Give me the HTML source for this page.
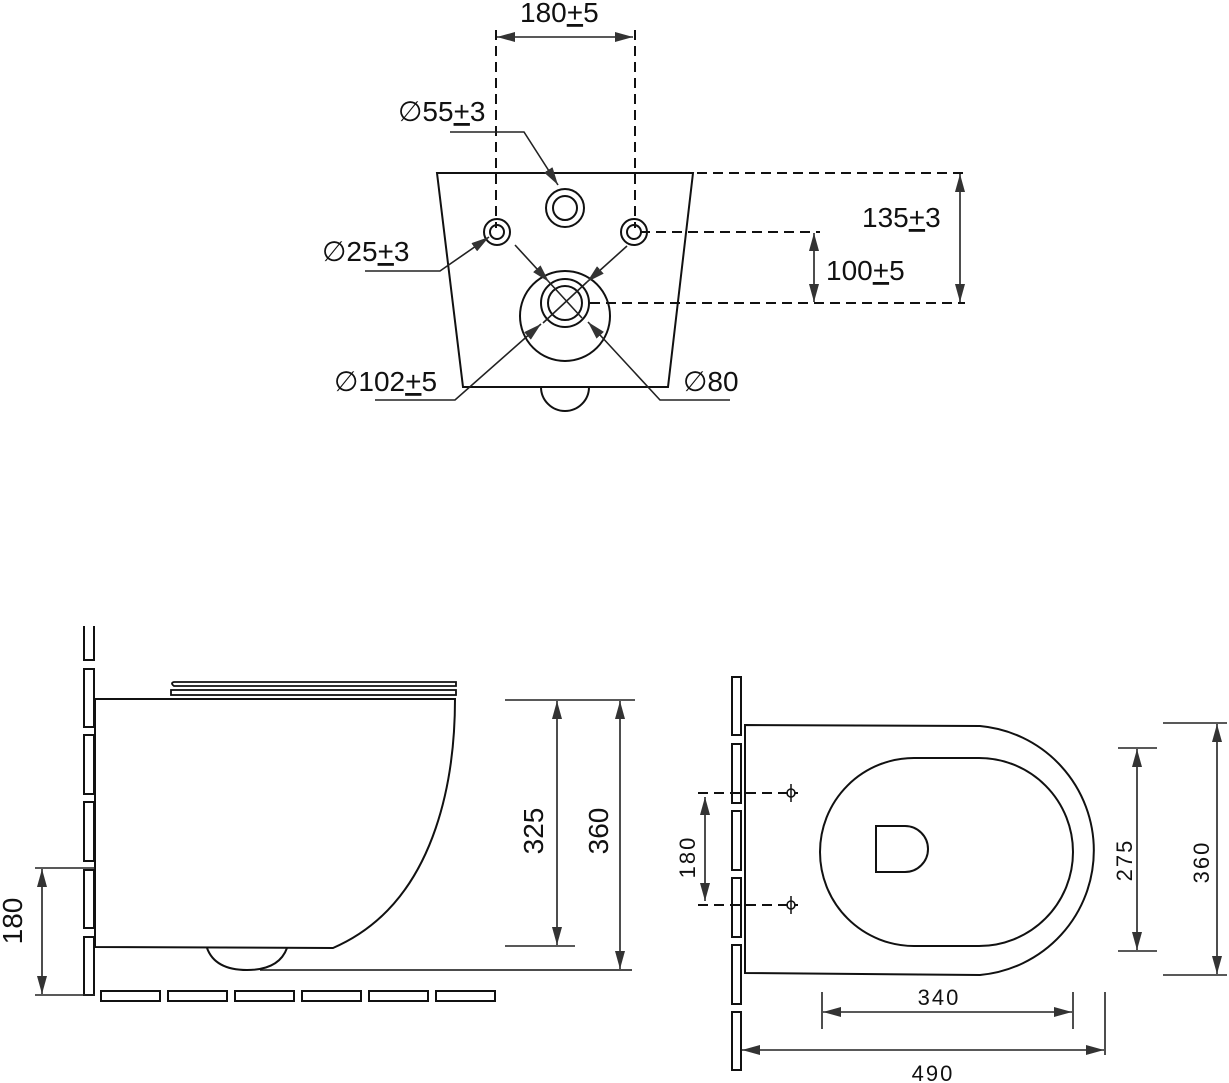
<!DOCTYPE html>
<html><head><meta charset="utf-8"><style>
html,body{margin:0;padding:0;background:#fff;}
svg{display:block;}
text{font-family:"Liberation Sans","DejaVu Sans",sans-serif;fill:#111;}
</style></head><body>
<svg width="1229" height="1083" viewBox="0 0 1229 1083" xmlns="http://www.w3.org/2000/svg">
<defs>
<marker id="b" viewBox="0 0 18 10" refX="18" refY="5" markerWidth="18" markerHeight="10" markerUnits="userSpaceOnUse" orient="auto-start-reverse">
<path d="M0,0 L18,5 L0,10 Z" fill="#333"/></marker>
</defs>
<g fill="none" stroke="#111" stroke-width="2">
<path d="M437,173 L693,173 L668,387 L463,387 Z"/>
<path d="M541,387 A24,24 0 0 0 589,387"/>
<circle cx="565" cy="208" r="19"/><circle cx="565" cy="208" r="12"/>
<circle cx="497" cy="232" r="13"/><circle cx="497" cy="232" r="7"/>
<circle cx="634" cy="232" r="13"/><circle cx="634" cy="232" r="7"/>
<circle cx="565" cy="316" r="45"/>
<circle cx="565" cy="303" r="24"/><circle cx="565" cy="303" r="17"/>
</g>
<g fill="none" stroke="#111" stroke-width="2" stroke-dasharray="10,6">
<line x1="496" y1="30" x2="496" y2="228"/>
<line x1="635" y1="30" x2="635" y2="228"/>
<line x1="697" y1="173" x2="965" y2="173"/>
<line x1="640" y1="232" x2="820" y2="232"/>
<line x1="590" y1="303" x2="965" y2="303"/>
</g>
<g fill="none" stroke="#222" stroke-width="1.6">
<line x1="497" y1="37" x2="633" y2="37" marker-start="url(#b)" marker-end="url(#b)"/>
<line x1="960" y1="174" x2="960" y2="302" marker-start="url(#b)" marker-end="url(#b)"/>
<line x1="814" y1="233" x2="814" y2="302" marker-start="url(#b)" marker-end="url(#b)"/>
<polyline points="450,132 524,132 558,185" marker-end="url(#b)"/>
<polyline points="365,271 440,271 489,237" marker-end="url(#b)"/>
<line x1="515" y1="245" x2="549" y2="282" marker-end="url(#b)"/>
<line x1="549" y1="282" x2="582" y2="318"/>
<polyline points="730,400 660,400 588,322" marker-end="url(#b)"/>
<line x1="627" y1="246" x2="587" y2="282" marker-end="url(#b)"/>
<line x1="587" y1="282" x2="543" y2="323"/>
<polyline points="375,400 455,400 541,324" marker-end="url(#b)"/>
</g>
<g font-size="28">
<text x="520" y="22">180<tspan text-decoration="underline">+</tspan>5</text>
<text x="398" y="121">∅55<tspan text-decoration="underline">+</tspan>3</text>
<text x="322" y="261">∅25<tspan text-decoration="underline">+</tspan>3</text>
<text x="862" y="227">135<tspan text-decoration="underline">+</tspan>3</text>
<text x="826" y="280">100<tspan text-decoration="underline">+</tspan>5</text>
<text x="334" y="391">∅102<tspan text-decoration="underline">+</tspan>5</text>
<text x="683" y="391">∅80</text>
</g>

<g fill="none" stroke="#111" stroke-width="2">
<path d="M84,626 L84,660 L94,660 L94,626"/>
<rect x="84" y="669" width="10" height="58"/>
<rect x="84" y="735" width="10" height="59"/>
<rect x="84" y="802" width="10" height="59"/>
<rect x="84" y="870" width="10" height="58"/>
<rect x="84" y="937" width="10" height="58"/>
<path d="M95,699 L455,699 C455,760 444,900 333,948 L95,947 Z"/>
<path d="M174,682 L456,682 L456,686 L174,686 Q170,683 174,682 Z" stroke-width="1.8"/>
<rect x="171" y="690" width="285" height="5" stroke-width="1.8"/>
<path d="M207,948 Q215,970 247,970 Q279,970 287,948"/>
<line x1="260" y1="970" x2="632" y2="970" stroke-width="1.5"/>
<rect x="101" y="991" width="59" height="10"/>
<rect x="168" y="991" width="59" height="10"/>
<rect x="235" y="991" width="59" height="10"/>
<rect x="302" y="991" width="59" height="10"/>
<rect x="369" y="991" width="59" height="10"/>
<rect x="436" y="991" width="59" height="10"/>
</g>
<g fill="none" stroke="#222" stroke-width="1.6">
<line x1="35" y1="868" x2="95" y2="868"/>
<line x1="35" y1="995" x2="95" y2="995"/>
<line x1="42" y1="869" x2="42" y2="994" marker-start="url(#b)" marker-end="url(#b)"/>
<line x1="505" y1="700" x2="635" y2="700"/>
<line x1="505" y1="946" x2="575" y2="946"/>
<line x1="557" y1="701" x2="557" y2="945" marker-start="url(#b)" marker-end="url(#b)"/>
<line x1="620" y1="701" x2="620" y2="969" marker-start="url(#b)" marker-end="url(#b)"/>
</g>
<g font-size="28">
<text transform="translate(22,921) rotate(-90)" text-anchor="middle">180</text>
<text transform="translate(543,831) rotate(-90)" text-anchor="middle">325</text>
<text transform="translate(608,831) rotate(-90)" text-anchor="middle">360</text>
</g>

<g fill="none" stroke="#111" stroke-width="2">
<rect x="732" y="677" width="9" height="58"/>
<rect x="732" y="744" width="9" height="59"/>
<rect x="732" y="811" width="9" height="59"/>
<rect x="732" y="878" width="9" height="59"/>
<rect x="732" y="945" width="9" height="59"/>
<rect x="732" y="1012" width="9" height="58"/>
<path d="M745,725 L980,726 A125,125 0 0 1 980,975 L745,973 Z"/>
<path d="M914,758 L979,758 A94,94 0 0 1 979,946 L914,946 A94,94 0 0 1 914,758 Z"/>
<path d="M876,826 L905,826 A23,23 0 0 1 905,872 L876,872 Z"/>
<circle cx="791" cy="793" r="4" stroke-width="1.5"/>
<circle cx="791" cy="905" r="4" stroke-width="1.5"/>
<line x1="791" y1="784" x2="791" y2="802" stroke-width="1.5"/>
<line x1="791" y1="896" x2="791" y2="914" stroke-width="1.5"/>
</g>
<g fill="none" stroke="#111" stroke-width="2" stroke-dasharray="10,6">
<line x1="698" y1="793" x2="798" y2="793"/>
<line x1="698" y1="905" x2="798" y2="905"/>
</g>
<g fill="none" stroke="#222" stroke-width="1.6">
<line x1="705" y1="797" x2="705" y2="901" marker-start="url(#b)" marker-end="url(#b)"/>
<line x1="1118" y1="748" x2="1157" y2="748"/>
<line x1="1118" y1="951" x2="1157" y2="951"/>
<line x1="1137" y1="749" x2="1137" y2="950" marker-start="url(#b)" marker-end="url(#b)"/>
<line x1="1163" y1="723" x2="1227" y2="723"/>
<line x1="1163" y1="975" x2="1227" y2="975"/>
<line x1="1217" y1="724" x2="1217" y2="974" marker-start="url(#b)" marker-end="url(#b)"/>
<line x1="822" y1="992" x2="822" y2="1029"/>
<line x1="1073" y1="992" x2="1073" y2="1029"/>
<line x1="823" y1="1012" x2="1072" y2="1012" marker-start="url(#b)" marker-end="url(#b)"/>
<line x1="1105" y1="992" x2="1105" y2="1055"/>
<line x1="742" y1="1050" x2="1104" y2="1050" marker-start="url(#b)" marker-end="url(#b)"/>
</g>
<g font-size="22" letter-spacing="2">
<text transform="translate(695,857) rotate(-90)" text-anchor="middle">180</text>
<text transform="translate(1132,860) rotate(-90)" text-anchor="middle">275</text>
<text transform="translate(1209,862) rotate(-90)" text-anchor="middle">360</text>
<text x="939" y="1005" text-anchor="middle">340</text>
<text x="933" y="1081" text-anchor="middle">490</text>
</g>
</svg>
</body></html>
